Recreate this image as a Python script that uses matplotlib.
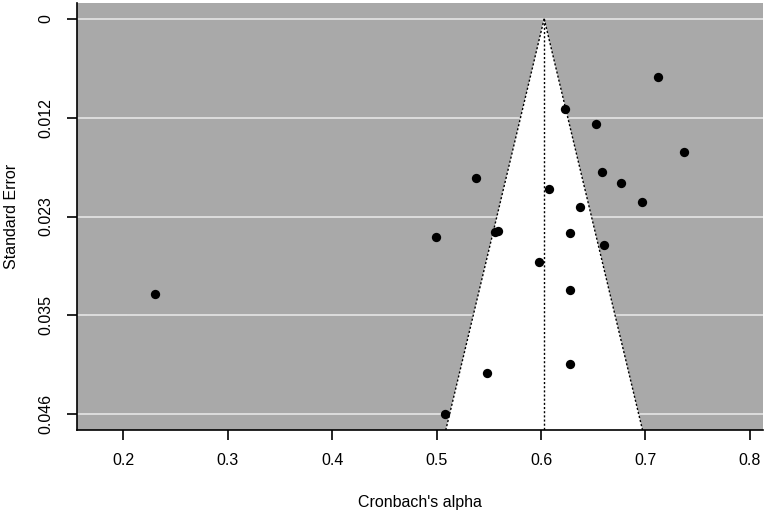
import numpy as np
import matplotlib
matplotlib.use("Agg")
import matplotlib.pyplot as plt

plt.rcParams['font.family'] = ['Liberation Sans', 'DejaVu Sans']

# Data
alpha = [0.712, 0.623, 0.653, 0.737, 0.538, 0.658, 0.677, 0.608, 0.637, 0.697,
         0.499, 0.556, 0.559, 0.628, 0.660, 0.598, 0.628, 0.628, 0.548, 0.508, 0.230]
se = [0.00683, 0.01048, 0.01231, 0.01561, 0.01865, 0.01791, 0.01919, 0.01989, 0.02203, 0.02145,
      0.02553, 0.02487, 0.02480, 0.02506, 0.02647, 0.02845, 0.03172, 0.04039, 0.04136, 0.0462, 0.03218]
pooled = 0.603
xticks = [0.2, 0.3, 0.4, 0.5, 0.6, 0.7, 0.8]
xlim = (0.1556, 0.8126)

se_max = max(se)
yticks = np.linspace(0, se_max, 5)
ytick_labels = ["0", "0.012", "0.023", "0.035", "0.046"]
ext = 0.04 * se_max
ylim_bottom = se_max + ext
ylim_top = -ext

fig = plt.figure(figsize=(7.67, 5.11), dpi=100)
ax = fig.add_axes([0.1004, 0.1585, 0.8944, 0.8356])
ax.set_xlim(*xlim)
ax.set_ylim(ylim_bottom, ylim_top)
ax.set_facecolor('#a9a9a9')

# gridlines
for t in yticks:
    ax.axhline(t, color='#e6e6e6', lw=1.2, zorder=1)

# funnel region
half = 1.96 * ylim_bottom
ax.fill([pooled, pooled - half, pooled + half], [0, ylim_bottom, ylim_bottom],
        color='white', zorder=2, lw=0)
dot = (0, (1.5, 1.5))
ax.plot([pooled, pooled - half], [0, ylim_bottom], color='black', ls=dot, lw=1, zorder=3)
ax.plot([pooled, pooled + half], [0, ylim_bottom], color='black', ls=dot, lw=1, zorder=3)
ax.plot([pooled, pooled], [0, ylim_bottom], color='black', ls=dot, lw=1, zorder=3)

ax.scatter(alpha, se, s=45, color='black', zorder=4, linewidths=0)

ax.set_xticks(xticks)
ax.set_xticklabels([f"{v:.1f}" for v in xticks])
ax.set_yticks(yticks)
ax.set_yticklabels(ytick_labels, rotation=90, va='center')

ax.tick_params(axis='both', direction='out', length=7.2, width=1.2, colors='black', labelsize=11.5)
ax.tick_params(axis='x', pad=9)
ax.tick_params(axis='y', pad=10)

for s in ['top', 'right']:
    ax.spines[s].set_visible(False)
for s in ['left', 'bottom']:
    ax.spines[s].set_linewidth(1.2)

ax.set_xlabel("Cronbach's alpha", fontsize=11.5, labelpad=20)
ax.set_ylabel("Standard Error", fontsize=11.5, labelpad=14)

fig.savefig("out.png", dpi=100)
